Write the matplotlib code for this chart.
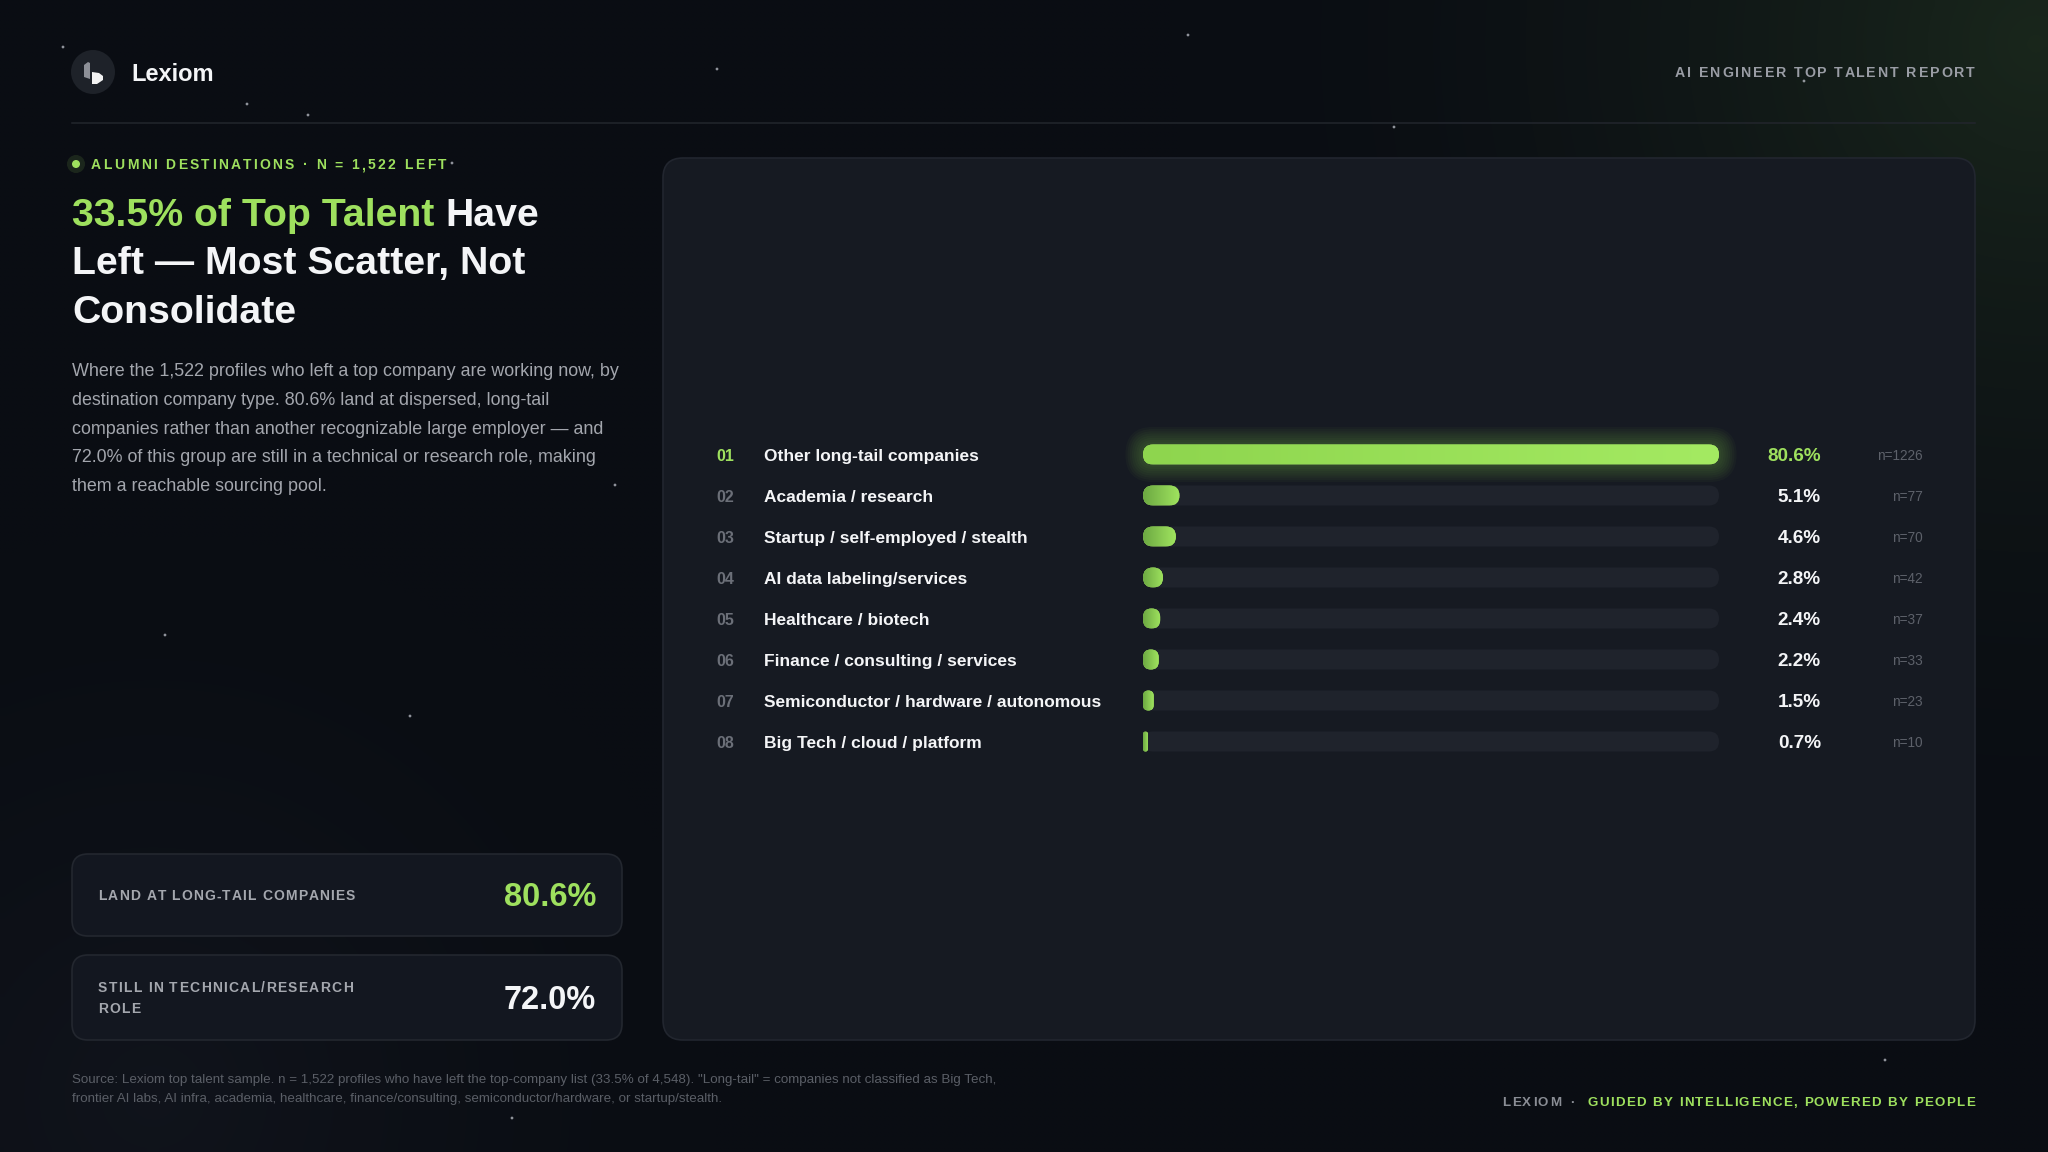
import numpy as np
import matplotlib
matplotlib.use('Agg')
import matplotlib.pyplot as plt
from matplotlib.patches import FancyBboxPatch, Circle, Polygon
from matplotlib.font_manager import FontProperties
from matplotlib.textpath import TextToPath
from matplotlib.transforms import blended_transform_factory
from matplotlib.colors import LinearSegmentedColormap, to_rgb

# ---- data ----
labels = ['Other long-tail companies', 'Academia / research',
          'Startup / self-employed / stealth', 'AI data labeling/services',
          'Healthcare / biotech', 'Finance / consulting / services',
          'Semiconductor / hardware / autonomous', 'Big Tech / cloud / platform']
pcts = [80.6, 5.1, 4.6, 2.8, 2.4, 2.2, 1.5, 0.7]
counts = [1226, 77, 70, 42, 37, 33, 23, 10]

kpi_labels = [['LAND AT LONG-TAIL COMPANIES'], ['STILL IN TECHNICAL/RESEARCH', 'ROLE']]
kpi_values = [80.6, 72.0]

tag = 'ALUMNI DESTINATIONS · N = 1,522 LEFT'
title_green = '33.5% of Top Talent'
title_lines = ['Have', 'Left — Most Scatter, Not', 'Consolidate']
body_lines = ['Where the 1,522 profiles who left a top company are working now, by',
              'destination company type. 80.6% land at dispersed, long-tail',
              'companies rather than another recognizable large employer — and',
              '72.0% of this group are still in a technical or research role, making',
              'them a reachable sourcing pool.']
source_lines = ['Source: Lexiom top talent sample. n = 1,522 profiles who have left the top-company list '
                '(33.5% of 4,548). "Long-tail" = companies not classified as Big Tech,',
                'frontier AI labs, AI infra, academia, healthcare, finance/consulting, '
                'semiconductor/hardware, or startup/stealth.']

# ---- style ----
W, H, DPI = 2048, 1152, 100
FONT = 'Liberation Sans'
BG = '#0a0d13'
GREEN = '#9ee05e'
WHITE = '#f4f5f7'
BODY = '#a3a6ad'
MUTED = '#6b6f78'
PANEL = '#161a22'
TRACK = '#1f232c'

fig = plt.figure(figsize=(W / DPI, H / DPI), dpi=DPI)
fig.patch.set_facecolor(BG)
page = fig.add_axes([0, 0, 1, 1])
page.axis('off')

# background glows
gx, gy = np.meshgrid(np.linspace(0, W, 256), np.linspace(0, H, 144))
img = np.ones((144, 256, 3)) * np.array(to_rgb(BG))
g = np.clip(1 - np.hypot(gx - 2040, gy - 40) / 860, 0, 1) ** 1.8
img += g[..., None] * np.array([0.06, 0.10, 0.035])
b = np.clip(1 - np.hypot(gx - 150, gy - 1100) / 560, 0, 1) ** 1.4
img += b[..., None] * np.array([0.025, 0.027, 0.034])
page.imshow(np.clip(img, 0, 1), extent=[0, W, H, 0], interpolation='bilinear',
            zorder=0, aspect='auto')
page.set_xlim(0, W)
page.set_ylim(H, 0)

stars = [(63, 47), (247, 104), (308, 115), (717, 69), (1188, 35), (1394, 127),
         (1804, 81), (615, 485), (165, 635), (410, 716), (512, 1118), (1885, 1060),
         (452, 163)]
for sx, sy in stars:
    page.add_patch(Circle((sx, sy), 1.4, fc='#c8ccd4', ec='none', alpha=0.7, zorder=1))

t2p = TextToPath()


def fp_of(size, weight='bold'):
    return FontProperties(family=FONT, weight=weight, size=size)


def tw(s, fp):
    return t2p.get_text_width_height_descent(s, fp, ismath=False)[0] * DPI / 72


def fit(s, width, weight='bold'):
    return 20 * width / tw(s, fp_of(20, weight))


def shift(fp):
    # va='center' sits a little high for cap-height text
    return 0.6 + 0.06 * fp.get_size_in_points() * DPI / 72


def put(x, y, s, fp, color, ha='left', **kw):
    page.text(x, y + shift(fp), s, fontproperties=fp, color=color, ha=ha, va='center',
              zorder=5, **kw)


def spaced(x, y, s, size, color, width=None, track=None, ha='left', weight='bold'):
    fp = fp_of(size, weight)
    n = len(s)
    if track is None:
        track = (width - tw(s, fp)) / (n - 1)
    total = tw(s, fp) + track * (n - 1)
    x0 = x - total if ha == 'right' else x
    bw = tw('|', fp)
    for k, ch in enumerate(s):
        if ch == ' ':
            continue
        off = 0 if k == 0 else tw(s[:k] + '|', fp) - bw
        put(x0 + off + k * track, y, ch, fp, color)
    return track


# ---- header ----
page.add_patch(Circle((93, 72), 22, fc='#1e2229', ec='none', zorder=2))
page.add_patch(Polygon([(84, 65), (88, 62), (90, 63), (90, 79), (84, 77)],
                       closed=True, fc='#8d9098', ec='none', zorder=3))
page.add_patch(Polygon([(92, 72), (99, 73), (103, 76), (103, 80), (97, 84), (92, 84)],
                       closed=True, fc='#f2f2f2', ec='none', zorder=3))
put(131, 72, 'Lexiom', fp_of(17), WHITE)
spaced(1975, 72, 'AI ENGINEER TOP TALENT REPORT', 10.2, '#9a9da5', 300, ha='right')
page.plot([72, 1975], [123, 123], color='#22262d', lw=1.1, zorder=2)

# ---- left column ----
page.add_patch(Circle((76, 164), 9, fc=GREEN, ec='none', alpha=0.12, zorder=3))
page.add_patch(Circle((76, 164), 4, fc=GREEN, ec='none', zorder=4))
spaced(91, 164, tag, 10, GREEN, 355)

tsize = fit(title_green + ' ' + title_lines[0], 467)
tfp = fp_of(tsize)
put(72, 213, title_green, tfp, GREEN)
xoff = tw(title_green + ' H', tfp) - tw('H', tfp)
put(72 + xoff, 213, title_lines[0], tfp, WHITE)
for k, line in enumerate(title_lines[1:]):
    put(72, 261.5 + 48.5 * k, line, tfp, WHITE)

bfp = fp_of(fit(body_lines[0], 547, 'normal'), 'normal')
for k, line in enumerate(body_lines):
    put(72, 370 + 28.7 * k, line, bfp, BODY)

# KPI cards
cards = [(854, 82), (955, 85)]
for (cy, ch), lab, val, col in zip(cards, kpi_labels, kpi_values, [GREEN, WHITE]):
    page.add_patch(FancyBboxPatch((72, cy), 550, ch, boxstyle='round,pad=0,rounding_size=16',
                                  fc='#131720', ec='#23272f', lw=1.2, zorder=2))
    mid = cy + ch / 2
    if len(lab) == 1:
        spaced(98, mid, lab[0], 10, '#a4a7ae', 257)
    else:
        trk = spaced(98, mid - 10.5, lab[0], 10, '#a4a7ae', 255)
        spaced(98, mid + 10.5, lab[1], 10, '#a4a7ae', track=trk)
    put(596, mid, f'{val:.1f}%', fp_of(23.5), col, ha='right')

# source note
sfp = fp_of(fit(source_lines[0], 927, 'normal'), 'normal')
for k, line in enumerate(source_lines):
    put(72, 1079 + 19 * k, line, sfp, '#5b5f67')

# footer right
spaced(1975, 1102, 'GUIDED BY INTELLIGENCE, POWERED BY PEOPLE', 9.6, GREEN, 388, ha='right')
put(1572, 1102, '·', fp_of(9.6), '#8a8d95', ha='center')
spaced(1561, 1102, 'LEXIOM', 9.6, '#8a8d95', 59, ha='right')

# ---- chart panel ----
page.add_patch(FancyBboxPatch((663, 158), 1312, 882, boxstyle='round,pad=0,rounding_size=20',
                              fc=PANEL, ec='#22262f', lw=1.2, zorder=2))

bx0, bx1 = 1143, 1719
row0, step = 454.5, 41.0
n = len(labels)
top_px = row0 - step / 2
bot_px = row0 + step * (n - 0.5)
ax = fig.add_axes([bx0 / W, 1 - bot_px / H, (bx1 - bx0) / W, (bot_px - top_px) / H])
ax.axis('off')
vmax = max(pcts)
xpp = vmax / (bx1 - bx0)
ypp = 1 / step
asp = ypp / xpp
bh = 20 * ypp

grad = np.linspace(0, 1, 256).reshape(1, -1)
cm_small = LinearSegmentedColormap.from_list('gs', ['#6ca842', '#a0e45f'])
cm_top = LinearSegmentedColormap.from_list('gt', ['#8ed54e', '#a4ea62'])

for i, v in enumerate(pcts):
    ax.add_patch(FancyBboxPatch((0, i - bh / 2), vmax, bh,
                                boxstyle=f'round,pad=0,rounding_size={10 * xpp}',
                                mutation_aspect=asp, fc=TRACK, ec='none', zorder=2))
    wpx = v / xpp
    r = min(10, wpx / 2)
    if i == 0:
        for k in range(1, 9):
            pad = 2.2 * k
            ax.add_patch(FancyBboxPatch((-pad * xpp, i - bh / 2 - pad * ypp), v + 2 * pad * xpp,
                                        bh + 2 * pad * ypp,
                                        boxstyle=f'round,pad=0,rounding_size={(10 + pad) * xpp}',
                                        mutation_aspect=asp, fc='#8fdc4f', ec='none',
                                        alpha=0.035, zorder=2.5, clip_on=False))
    bar = FancyBboxPatch((0, i - bh / 2), v, bh,
                         boxstyle=f'round,pad=0,rounding_size={r * xpp}',
                         mutation_aspect=asp, fc=GREEN, ec='none', zorder=3)
    ax.add_patch(bar)
    im = ax.imshow(grad, extent=[0, v, i + bh / 2, i - bh / 2],
                   cmap=cm_top if i == 0 else cm_small, aspect='auto',
                   interpolation='bilinear', zorder=4)
    im.set_clip_path(bar)

ax.set_xlim(0, vmax)
ax.set_ylim(n - 0.5, -0.5)

tr = blended_transform_factory(page.transData, ax.transData)
rank_fp, lab_fp = fp_of(11.5), fp_of(12.5)
pct_fp, n_fp = fp_of(13.6), fp_of(9.8, 'normal')
for i, (lab, v, c) in enumerate(zip(labels, pcts, counts)):
    for x, s, fp, col, ha in [(716, f'{i + 1:02d}', rank_fp, GREEN if i == 0 else MUTED, 'left'),
                              (764, lab, lab_fp, WHITE, 'left'),
                              (1821, f'{v:.1f}%', pct_fp, GREEN if i == 0 else WHITE, 'right'),
                              (1923, f'n={c}', n_fp, '#5d616a', 'right')]:
        page.text(x, i + shift(fp) * ypp, s, transform=tr, fontproperties=fp, color=col,
                  ha=ha, va='center', zorder=5)

fig.savefig('out.png', dpi=DPI, facecolor=BG)
